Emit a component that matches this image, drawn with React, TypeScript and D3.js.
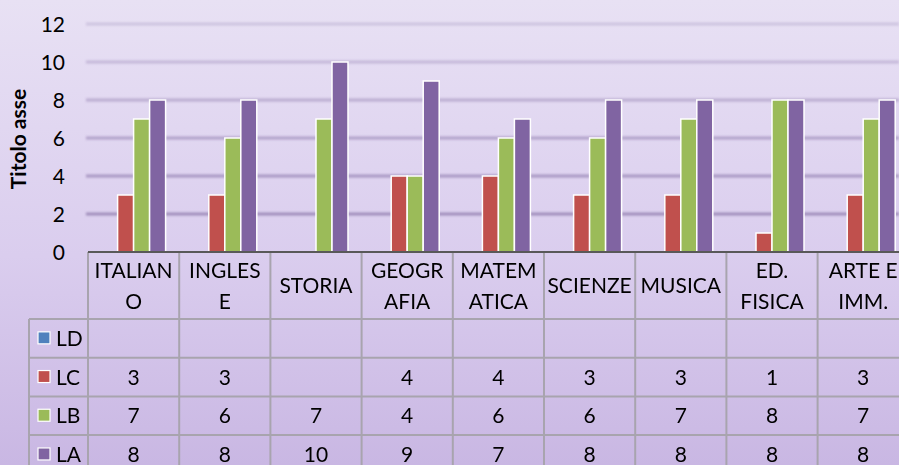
import React, { useRef, useEffect } from 'react';
import * as d3 from 'd3';

const categories = ['ITALIANO', 'INGLESE', 'STORIA', 'GEOGRAFIA', 'MATEMATICA', 'SCIENZE', 'MUSICA', 'ED. FISICA', 'ARTE E IMM.'];
// header labels as wrapped in the table
const headerLines = [['ITALIAN', 'O'], ['INGLES', 'E'], ['STORIA'], ['GEOGR', 'AFIA'], ['MATEM', 'ATICA'], ['SCIENZE'], ['MUSICA'], ['ED.', 'FISICA'], ['ARTE E', 'IMM.']];
const seriesNames = ['LD', 'LC', 'LB', 'LA'];
const LD: (number | null)[] = [null, null, null, null, null, null, null, null, null];
const LC: (number | null)[] = [3, 3, null, 4, 4, 3, 3, 1, 3];
const LB: (number | null)[] = [7, 6, 7, 4, 6, 6, 7, 8, 7];
const LA: (number | null)[] = [8, 8, 10, 9, 7, 8, 8, 8, 8];
const yTicks = [0, 2, 4, 6, 8, 10, 12];

const colors = ['#4F81BD', '#C0504D', '#9BBB59', '#8064A2'];

export default function App() {
  const svgRef = useRef<SVGSVGElement>(null);

  useEffect(() => {
    const svg = d3.select(svgRef.current);
    svg.selectAll('*').remove();

    const width = 899;
    const height = 465;
    const font = 'Lato, "Open Sans", sans-serif';
    const fs = '21px';
    const values = [LD, LC, LB, LA];

    // background gradient
    const defs = svg.append('defs');
    const grad = defs.append('linearGradient').attr('id', 'bg').attr('x1', 0).attr('y1', 0).attr('x2', 0).attr('y2', 1);
    grad.append('stop').attr('offset', '0%').attr('stop-color', '#E8E1F4');
    grad.append('stop').attr('offset', '55%').attr('stop-color', '#DACDEE');
    grad.append('stop').attr('offset', '100%').attr('stop-color', '#C9B7E3');
    svg.append('rect').attr('width', width).attr('height', height).attr('fill', 'url(#bg)');

    // soft blur for the gridlines
    defs.append('filter').attr('id', 'soft')
      .attr('filterUnits', 'userSpaceOnUse')
      .attr('x', 0).attr('y', 0).attr('width', width).attr('height', height)
      .append('feGaussianBlur').attr('stdDeviation', 0.8);

    const left = 88;
    const colW = 91.2;
    const axisY = 252;

    const x = d3.scaleBand<string>()
      .domain(categories)
      .range([left, left + colW * categories.length]);

    const xInner = d3.scaleBand<string>()
      .domain(seriesNames)
      .range([0, x.bandwidth()])
      .paddingInner(0)
      .paddingOuter(0.85);

    const y = d3.scaleLinear().domain([0, 12]).range([axisY, 24]);

    // gridlines (darker towards the bottom, the top one barely visible)
    const gridOpacity = d3.scaleLinear().domain([2, 12]).range([0.9, 0.3]);
    const grid = svg.append('g').attr('filter', 'url(#soft)');
    yTicks.filter(t => t > 0).forEach(t => {
      grid.append('line')
        .attr('x1', left - 2).attr('x2', width)
        .attr('y1', y(t)).attr('y2', y(t))
        .attr('stroke', '#9A87B6').attr('stroke-width', 3)
        .attr('opacity', gridOpacity(t));
    });

    // y tick labels
    svg.append('g').selectAll('text')
      .data(yTicks)
      .enter().append('text')
      .attr('x', 65)
      .attr('y', d => y(d))
      .attr('dy', '0.36em')
      .attr('text-anchor', 'end')
      .style('font-family', font)
      .style('font-size', fs)
      .attr('fill', '#000')
      .text(d => d);

    // axis title
    svg.append('text')
      .attr('transform', `translate(26,${139}) rotate(-90)`)
      .attr('text-anchor', 'middle')
      .style('font-family', font)
      .style('font-size', '21px')
      .style('font-weight', 'bold')
      .text('Titolo asse');

    // bars
    values.forEach((vals, si) => {
      svg.append('g').selectAll('rect')
        .data(vals.map((v, i) => ({ v, c: categories[i] })).filter(d => d.v !== null))
        .enter().append('rect')
        .attr('x', d => (x(d.c) as number) + (xInner(seriesNames[si]) as number))
        .attr('y', d => y(d.v as number))
        .attr('width', xInner.bandwidth())
        .attr('height', d => axisY - y(d.v as number))
        .attr('fill', colors[si])
        .attr('stroke', '#fff')
        .attr('stroke-width', 1.5);
    });

    // table
    const headerBottom = 319;
    const rowH = 38.7;
    const tableRight = left + colW * categories.length;
    const legendLeft = 29;
    const lineColor = '#A8A4AE';
    const table = svg.append('g');

    // horizontal lines
    for (let r = 0; r <= seriesNames.length; r++) {
      const yy = headerBottom + r * rowH;
      table.append('line')
        .attr('x1', legendLeft).attr('x2', tableRight)
        .attr('y1', yy).attr('y2', yy)
        .attr('stroke', lineColor).attr('stroke-width', 2);
    }
    // vertical lines
    categories.forEach((c, i) => {
      table.append('line')
        .attr('x1', x(c) as number).attr('x2', x(c) as number)
        .attr('y1', axisY).attr('y2', height)
        .attr('stroke', lineColor).attr('stroke-width', 2);
      if (i === categories.length - 1) {
        table.append('line')
          .attr('x1', tableRight).attr('x2', tableRight)
          .attr('y1', axisY).attr('y2', height)
          .attr('stroke', lineColor).attr('stroke-width', 2);
      }
    });
    table.append('line')
      .attr('x1', legendLeft).attr('x2', legendLeft)
      .attr('y1', headerBottom).attr('y2', height)
      .attr('stroke', lineColor).attr('stroke-width', 2);

    // axis line
    svg.append('line')
      .attr('x1', left).attr('x2', width)
      .attr('y1', axisY).attr('y2', axisY)
      .attr('stroke', '#595959').attr('stroke-width', 2);

    // header labels
    headerLines.forEach((lines, i) => {
      const cx = (x(categories[i]) as number) + x.bandwidth() / 2;
      const cy = lines.length === 1 ? 285.5 : 270;
      lines.forEach((ln, k) => {
        table.append('text')
          .attr('x', cx)
          .attr('y', cy + k * 31)
          .attr('dy', '0.36em')
          .attr('text-anchor', 'middle')
          .style('font-family', font)
          .style('font-size', fs)
          .text(ln);
      });
    });

    // rows: legend key + values
    seriesNames.forEach((name, si) => {
      const cy = headerBottom + si * rowH + rowH / 2;
      table.append('rect')
        .attr('x', 38).attr('y', cy - 6.5)
        .attr('width', 12).attr('height', 12)
        .attr('fill', colors[si])
        .attr('stroke', '#fff').attr('stroke-width', 1.2);
      table.append('text')
        .attr('x', 56).attr('y', cy)
        .attr('dy', '0.36em')
        .style('font-family', font)
        .style('font-size', fs)
        .text(name);
      values[si].forEach((v, i) => {
        if (v === null) return;
        table.append('text')
          .attr('x', (x(categories[i]) as number) + x.bandwidth() / 2)
          .attr('y', cy)
          .attr('dy', '0.36em')
          .attr('text-anchor', 'middle')
          .style('font-family', font)
          .style('font-size', fs)
          .text(v);
      });
    });
  }, []);

  return (
    <div style={{ position: 'fixed', left: 0, top: 0 }}>
      <svg ref={svgRef} width={899} height={465} style={{ display: 'block' }}></svg>
    </div>
  );
}
